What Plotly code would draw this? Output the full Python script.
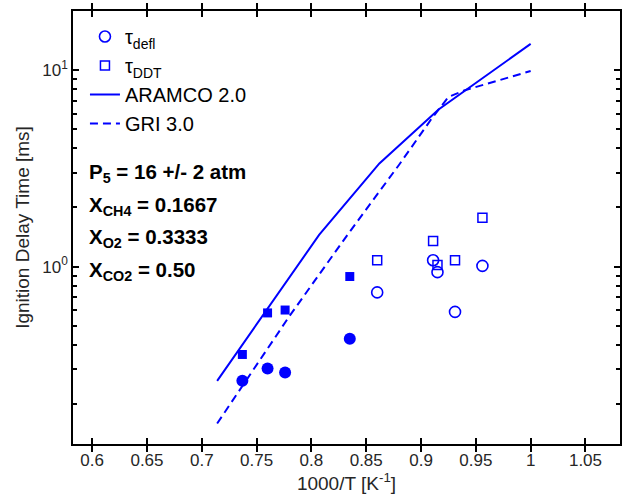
import plotly.graph_objects as go
import numpy as np

# Measured ignition delay times (1000/T in K^-1, tau in ms)
# filled symbols: high-temperature points, open symbols: low-temperature points
defl_filled_x = [0.737, 0.760, 0.776, 0.835]
defl_filled_y = [0.262, 0.303, 0.289, 0.429]
ddt_filled_x = [0.737, 0.760, 0.776, 0.835]
ddt_filled_y = [0.357, 0.581, 0.601, 0.890]

defl_open_x = [0.860, 0.911, 0.915, 0.931, 0.956]
defl_open_y = [0.739, 1.077, 0.937, 0.588, 1.008]
ddt_open_x = [0.860, 0.911, 0.915, 0.931, 0.956]
ddt_open_y = [1.077, 1.350, 1.020, 1.077, 1.770]

# Model predictions
aramco_x = [0.714, 0.757, 0.807, 0.862, 0.916, 1.000]
aramco_y = [0.262, 0.580, 1.450, 3.350, 6.300, 13.60]
gri_x = [0.714, 0.780, 0.834, 0.880, 0.910, 0.925, 0.940, 1.000]
gri_y = [0.159, 0.560, 1.480, 3.300, 5.700, 7.300, 7.900, 9.900]

x_ticks = [0.6, 0.65, 0.7, 0.75, 0.8, 0.85, 0.9, 0.95, 1.0, 1.05]
x_tick_text = ["0.6", "0.65", "0.7", "0.75", "0.8", "0.85", "0.9", "0.95", "1", "1.05"]
y_ticks = [1, 10]
y_tick_text = ["10<sup>0</sup>", "10<sup>1</sup>"]
y_minor_ticks = [0.2, 0.3, 0.4, 0.5, 0.6, 0.7, 0.8, 0.9,
                 2, 3, 4, 5, 6, 7, 8, 9, 20]

conditions = [
    "P<sub>5</sub> = 16 +/- 2 atm",
    "X<sub>CH4</sub> = 0.1667",
    "X<sub>O2</sub> = 0.3333",
    "X<sub>CO2</sub> = 0.50",
]

BLUE = "#0000FF"
FONT = "Liberation Sans, Arial, sans-serif"
TXT = "#262626"

W, H = 624, 504
ML, MR, MT, MB = 73, 2, 11, 60
PW, PH = W - ML - MR, H - MT - MB
Y_RANGE = [np.log10(0.125), np.log10(20)]


def px_x(p):
    return (p - ML) / PW


def px_y(p):
    return (H - MB - p) / PH


fig = go.Figure()

fig.add_trace(go.Scatter(
    x=defl_open_x, y=defl_open_y, mode="markers", name="τ<sub>defl</sub>",
    marker=dict(symbol="circle-open", size=11, color=BLUE, line=dict(width=1.6, color=BLUE)),
))
fig.add_trace(go.Scatter(
    x=ddt_open_x, y=ddt_open_y, mode="markers", name="τ<sub>DDT</sub>",
    marker=dict(symbol="square-open", size=9, color=BLUE, line=dict(width=1.5, color=BLUE)),
))
fig.add_trace(go.Scatter(
    x=aramco_x, y=aramco_y, mode="lines", name="ARAMCO 2.0",
    line=dict(color=BLUE, width=2),
))
fig.add_trace(go.Scatter(
    x=gri_x, y=gri_y, mode="lines", name="GRI 3.0",
    line=dict(color=BLUE, width=2, dash="8px,5px"),
))
fig.add_trace(go.Scatter(
    x=defl_filled_x, y=defl_filled_y, mode="markers", showlegend=False,
    marker=dict(symbol="circle", size=12, color=BLUE),
))
fig.add_trace(go.Scatter(
    x=ddt_filled_x, y=ddt_filled_y, mode="markers", showlegend=False,
    marker=dict(symbol="square", size=9, color=BLUE),
))
# empty trace that carries the minor-tick axis
fig.add_trace(go.Scatter(x=[None], y=[None], yaxis="y2", showlegend=False))

for i, txt in enumerate(conditions):
    fig.add_annotation(
        xref="paper", yref="paper", x=px_x(87), y=px_y(173 + 32.7 * i),
        xanchor="left", yanchor="middle", showarrow=False,
        text="<b>" + txt + "</b>", font=dict(family=FONT, size=20.5, color="black"),
    )

fig.update_layout(
    xaxis=dict(
        range=[0.5825, 1.0815], showline=True, linecolor="black", linewidth=1.5, mirror="allticks",
        ticks="inside", ticklen=6, tickwidth=1.5, tickcolor="black",
        tickvals=x_ticks, ticktext=x_tick_text, showgrid=False, zeroline=False,
        tickfont=dict(family=FONT, size=17, color=TXT),
        title=dict(text="1000/T [K<sup>-1</sup>]", font=dict(family=FONT, size=19, color=TXT), standoff=6),
    ),
    yaxis=dict(
        type="log", range=Y_RANGE, showline=True, linecolor="black", linewidth=1.5, mirror="allticks",
        ticks="inside", ticklen=6, tickwidth=1.5, tickcolor="black",
        tickvals=y_ticks, ticktext=y_tick_text, showgrid=False, zeroline=False,
        tickfont=dict(family=FONT, size=17, color=TXT),
        title=dict(text="Ignition Delay Time [ms]", font=dict(family=FONT, size=19, color=TXT), standoff=8),
    ),
    yaxis2=dict(
        overlaying="y", side="left", type="log", range=Y_RANGE,
        tickvals=y_minor_ticks, showticklabels=False,
        ticks="inside", ticklen=4, tickwidth=1.5, tickcolor="black",
        mirror="allticks", showline=False, showgrid=False, zeroline=False,
    ),
    width=W, height=H,
    margin=dict(l=ML, r=MR, t=MT, b=MB),
    paper_bgcolor="white", plot_bgcolor="white",
    font=dict(family=FONT, color="black"),
    legend=dict(
        x=px_x(85), y=px_y(17), xanchor="left", yanchor="top",
        bgcolor="rgba(0,0,0,0)", borderwidth=0,
        font=dict(family=FONT, size=20, color="black"),
        itemwidth=30, tracegroupgap=0,
    ),
)

fig.write_html("out.html")
